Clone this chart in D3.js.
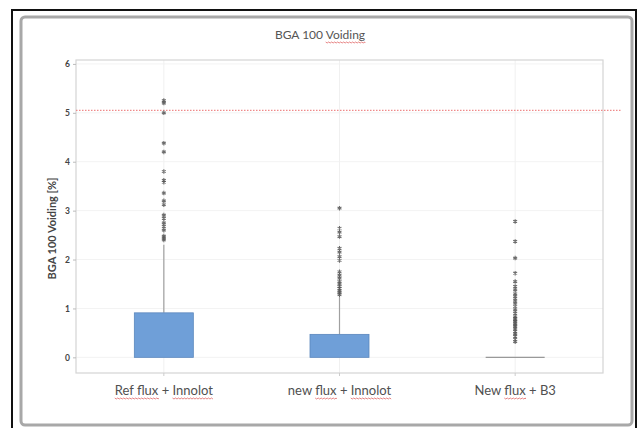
<!DOCTYPE html>
<html>
<head>
<meta charset="utf-8">
<script src="https://cdn.jsdelivr.net/npm/d3@7"></script>
<style>
  body { margin: 0; background: #fff; }
  svg { display: block; font-family: Lato, "Liberation Sans", sans-serif; }
</style>
</head>
<body>
<div id="chart"></div>
<script>
// box plot data
const categories = ["Ref flux + Innolot", "new flux + Innolot", "New flux + B3"];
const q1 = [0, 0, 0];
const median = [0, 0, 0];
const q3 = [0.91, 0.47, 0];
const whiskerHigh = [2.3, 1.24, 0];
const outliers = [
  [5.25, 5.2, 5.0, 4.38, 4.2, 3.8, 3.62, 3.58, 3.36, 3.2, 3.12, 2.91, 2.84, 2.75, 2.68, 2.6, 2.48, 2.44, 2.4],
  [3.05, 2.64, 2.56, 2.47, 2.23, 2.15, 2.06, 1.98, 1.75, 1.68, 1.62, 1.55, 1.5, 1.45, 1.41, 1.36, 1.32, 1.28],
  [2.78, 2.37, 2.03, 1.72, 1.55, 1.45, 1.38, 1.3, 1.24, 1.17, 1.11, 1.04, 0.97, 0.9, 0.83, 0.8, 0.77, 0.74, 0.7, 0.66, 0.63, 0.58, 0.53, 0.48, 0.43, 0.37, 0.32]
];
const yTicks = [0, 1, 2, 3, 4, 5, 6];
const limitValue = 5.05;
const title = "BGA 100 Voiding";
const yTitle = "BGA 100 Voiding [%]";

const W = 639, H = 428;
const plot = { left: 76, right: 603, top: 60, bottom: 373 };

const svg = d3.select("#chart").append("svg")
  .attr("width", W).attr("height", H);

// outer frames (slide screenshot look)
svg.append("rect").attr("x", 12).attr("y", 10).attr("width", 624).attr("height", 420)
  .attr("fill", "#fff").attr("stroke", "#111").attr("stroke-width", 2);
svg.append("rect").attr("x", 21).attr("y", 17).attr("width", 611).attr("height", 408)
  .attr("rx", 4).attr("fill", "#fff").attr("stroke", "#a8a8a8").attr("stroke-width", 3);

const x = d3.scaleBand().domain(categories).range([plot.left, plot.right]);
const y = d3.scaleLinear().domain([-0.32, 6.08]).range([plot.bottom, plot.top]);
const cx = d => x(d) + x.bandwidth() / 2;
const boxW = 59;

// grid
svg.append("g").selectAll("line").data(yTicks).join("line")
  .attr("x1", plot.left).attr("x2", plot.right)
  .attr("y1", d => y(d)).attr("y2", d => y(d))
  .attr("stroke", "#f3f3f3");
svg.append("g").selectAll("line").data(categories).join("line")
  .attr("x1", cx).attr("x2", cx)
  .attr("y1", plot.top).attr("y2", plot.bottom)
  .attr("stroke", "#f0f0f0");

// plot frame
svg.append("rect").attr("x", plot.left).attr("y", plot.top)
  .attr("width", plot.right - plot.left).attr("height", plot.bottom - plot.top)
  .attr("fill", "none").attr("stroke", "#d4d4d4").attr("stroke-width", 1.2);

// y axis
const yAxis = svg.append("g").attr("transform", `translate(${plot.left},0)`)
  .call(d3.axisLeft(y).tickValues(yTicks).tickSize(3).tickPadding(3).tickFormat(d3.format("d")));
yAxis.select(".domain").remove();
yAxis.selectAll(".tick line").attr("stroke", "#bbb");
yAxis.selectAll(".tick text").attr("fill", "#444").attr("font-size", 8.5).attr("font-weight", "bold")
  .attr("font-family", "Lato, sans-serif");

// x axis ticks
svg.append("g").selectAll("line").data(categories).join("line")
  .attr("x1", cx).attr("x2", cx).attr("y1", plot.bottom).attr("y2", plot.bottom + 3)
  .attr("stroke", "#ccc");

// limit line
svg.append("line").attr("x1", plot.left).attr("x2", 621)
  .attr("y1", y(limitValue)).attr("y2", y(limitValue))
  .attr("stroke", "#ef8a8a").attr("stroke-width", 1.2).attr("stroke-dasharray", "1.5,1.5");

// whiskers
svg.append("g").selectAll("line").data(categories).join("line")
  .attr("x1", cx).attr("x2", cx)
  .attr("y1", (d, i) => y(q3[i])).attr("y2", (d, i) => y(whiskerHigh[i]))
  .attr("stroke", "#a0a0a0").attr("stroke-width", 1.2);

// boxes
svg.append("g").selectAll("rect").data(categories).join("rect")
  .attr("x", d => cx(d) - boxW / 2).attr("width", boxW)
  .attr("y", (d, i) => y(q3[i]))
  .attr("height", (d, i) => Math.max(0, y(q1[i]) - y(q3[i])))
  .attr("fill", "#6f9fd8").attr("stroke", "#5b87bd").attr("stroke-width", 0.8);

// median lines for flat boxes
svg.append("g").selectAll("line").data(categories.filter((d, i) => q3[i] === q1[i])).join("line")
  .attr("x1", d => cx(d) - boxW / 2).attr("x2", d => cx(d) + boxW / 2)
  .attr("y1", d => y(median[categories.indexOf(d)]))
  .attr("y2", d => y(median[categories.indexOf(d)]))
  .attr("stroke", "#999").attr("stroke-width", 1.2);

// outliers
const star = d3.symbol().type(d3.symbolAsterisk).size(14);
const outG = svg.append("g");
categories.forEach((c, i) => {
  outG.selectAll(null).data(outliers[i]).join("path")
    .attr("d", star)
    .attr("transform", v => `translate(${cx(c)},${y(v)})`)
    .attr("fill", "none").attr("stroke", "#555").attr("stroke-width", 1.1).attr("opacity", 0.85);
});

// red spell-check squiggle under a part of a text element
function squiggle(textSel, from, to) {
  const node = textSel.node();
  const x0 = node.getStartPositionOfChar(from).x;
  const x1 = node.getEndPositionOfChar(to - 1).x;
  const base = node.getStartPositionOfChar(from).y + 3;
  let p = `M${x0},${base}`;
  for (let xx = x0, k = 0; xx < x1; xx += 1.5, k++) {
    p += `L${Math.min(xx + 1.5, x1)},${base + (k % 2 ? 0 : 1)}`;
  }
  svg.append("path").attr("d", p).attr("fill", "none")
    .attr("stroke", "#e06666").attr("stroke-width", 0.8);
}

// title
const t = svg.append("text").attr("x", 320).attr("y", 39).attr("text-anchor", "middle")
  .attr("font-size", 12).attr("fill", "#555").text(title);
squiggle(t, title.indexOf("Voiding"), title.length);

// y title
svg.append("text")
  .attr("transform", `translate(56,${(plot.top + plot.bottom) / 2 + 12}) rotate(-90)`)
  .attr("text-anchor", "middle").attr("font-size", 11).attr("font-weight", "bold")
  .attr("fill", "#444").text(yTitle);

// x labels
const marked = [["Ref flux", "Innolot"], ["flux", "Innolot"], ["flux"]];
categories.forEach((c, i) => {
  const lbl = svg.append("text").attr("x", cx(c)).attr("y", 395)
    .attr("text-anchor", "middle").attr("font-size", 13).attr("fill", "#505050").text(c);
  marked[i].forEach(w => {
    const s = c.indexOf(w);
    squiggle(lbl, s, s + w.length);
  });
});
</script>
</body>
</html>
